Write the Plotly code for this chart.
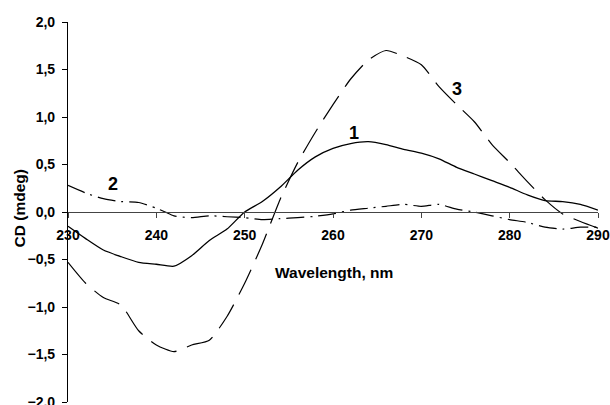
import plotly.graph_objects as go

# Curve 1 (solid)
wl1 = [230, 232, 234, 236, 238, 240, 242, 244, 246, 248, 250, 252, 254, 256, 258, 260,
       262, 264, 266, 268, 270, 272, 274, 276, 278, 280, 282, 284, 286, 288, 290]
cd1 = [-0.15, -0.28, -0.40, -0.47, -0.53, -0.55, -0.57, -0.46, -0.30, -0.18, 0.00, 0.11,
       0.26, 0.44, 0.58, 0.67, 0.72, 0.74, 0.71, 0.66, 0.62, 0.56, 0.47, 0.40, 0.33, 0.26,
       0.18, 0.12, 0.11, 0.08, 0.02]

# Curve 2 (dash-dot)
wl2 = [230, 232, 234, 236, 238, 240, 241, 242, 244, 246, 248, 250, 252, 254, 256, 258,
       260, 262, 264, 266, 268, 270, 272, 274, 276, 278, 280, 282, 284, 286, 288, 290]
cd2 = [0.28, 0.20, 0.14, 0.11, 0.10, 0.04, 0.00, -0.04, -0.06, -0.04, -0.05, -0.06, -0.08,
       -0.07, -0.06, -0.045, -0.02, 0.02, 0.04, 0.06, 0.08, 0.06, 0.08, 0.03, 0.00, -0.04,
       -0.08, -0.11, -0.16, -0.18, -0.16, -0.16]

# Curve 3 (long dash)
wl3 = [230, 232, 234, 236, 238, 240, 242, 244, 246, 248, 250, 252, 254, 256, 258, 260,
       262, 264, 266, 268, 270, 272, 274, 276, 278, 280, 282, 284, 286, 288, 290]
cd3 = [-0.53, -0.75, -0.90, -0.98, -1.25, -1.40, -1.47, -1.40, -1.35, -1.10, -0.75, -0.34,
       0.13, 0.52, 0.84, 1.13, 1.40, 1.60, 1.70, 1.64, 1.55, 1.32, 1.13, 0.95, 0.71, 0.52,
       0.32, 0.13, -0.02, -0.10, -0.17]

x_ticks = [230, 240, 250, 260, 270, 280, 290]
y_ticks = [-2.0, -1.5, -1.0, -0.5, 0.0, 0.5, 1.0, 1.5, 2.0]

curve_labels = ["1", "2", "3"]
label_x = [262.4, 235.1, 274.0]
label_y = [0.83, 0.30, 1.30]

FONT = "Liberation Sans, Arial, sans-serif"

fig = go.Figure()
fig.add_trace(go.Scatter(x=wl1, y=cd1, mode="lines", name="1",
                         line=dict(color="black", width=1.3, shape="spline", smoothing=0.6)))
fig.add_trace(go.Scatter(x=wl2, y=cd2, mode="lines", name="2",
                         line=dict(color="black", width=1.2, shape="spline", smoothing=0.6,
                                   dash="18px,6px,2px,6px")))
fig.add_trace(go.Scatter(x=wl3, y=cd3, mode="lines", name="3",
                         line=dict(color="black", width=1.2, shape="spline", smoothing=0.6,
                                   dash="28px,11px")))

for t, xx, yy in zip(curve_labels, label_x, label_y):
    fig.add_annotation(x=xx, y=yy, text=t, showarrow=False,
                       font=dict(family=FONT, size=18, color="black", weight="bold"))

fig.add_annotation(x=260.1, y=-0.64, text="Wavelength, nm", showarrow=False,
                   font=dict(family=FONT, size=15.5, color="black", weight="bold"))
fig.add_annotation(xref="paper", yref="paper", x=-0.092, y=0.51, text="CD (mdeg)",
                   xanchor="center", yanchor="middle",
                   textangle=-90, showarrow=False,
                   font=dict(family=FONT, size=15.5, color="black", weight="bold"))

fig.update_layout(
    width=610, height=405,
    margin=dict(l=68, r=12, t=22, b=3, autoexpand=False),
    paper_bgcolor="white", plot_bgcolor="white",
    showlegend=False,
    separators=", ",
    font=dict(family=FONT, color="black"),
)
fig.update_xaxes(
    range=[230, 290], tickvals=x_ticks, ticktext=[str(v) for v in x_ticks],
    anchor="free", position=0.5, automargin=False,
    showline=True, linecolor="#444", linewidth=1.2,
    ticks="outside", ticklen=5, tickcolor="#444", tickwidth=1,
    ticklabelstandoff=5, ticklabeloverflow="allow",
    showgrid=False, zeroline=False,
    tickfont=dict(family=FONT, size=14, color="black", weight="bold"),
)
fig.update_yaxes(
    range=[-2.0, 2.0], tickvals=y_ticks, tickformat=".1f", automargin=False,
    showline=True, linecolor="black", linewidth=1.2,
    ticks="outside", ticklen=5, tickcolor="black", tickwidth=1,
    ticklabelstandoff=4, ticklabeloverflow="allow",
    showgrid=False, zeroline=False,
    tickfont=dict(family=FONT, size=14, color="black", weight="bold"),
)

fig.write_html("out.html")
